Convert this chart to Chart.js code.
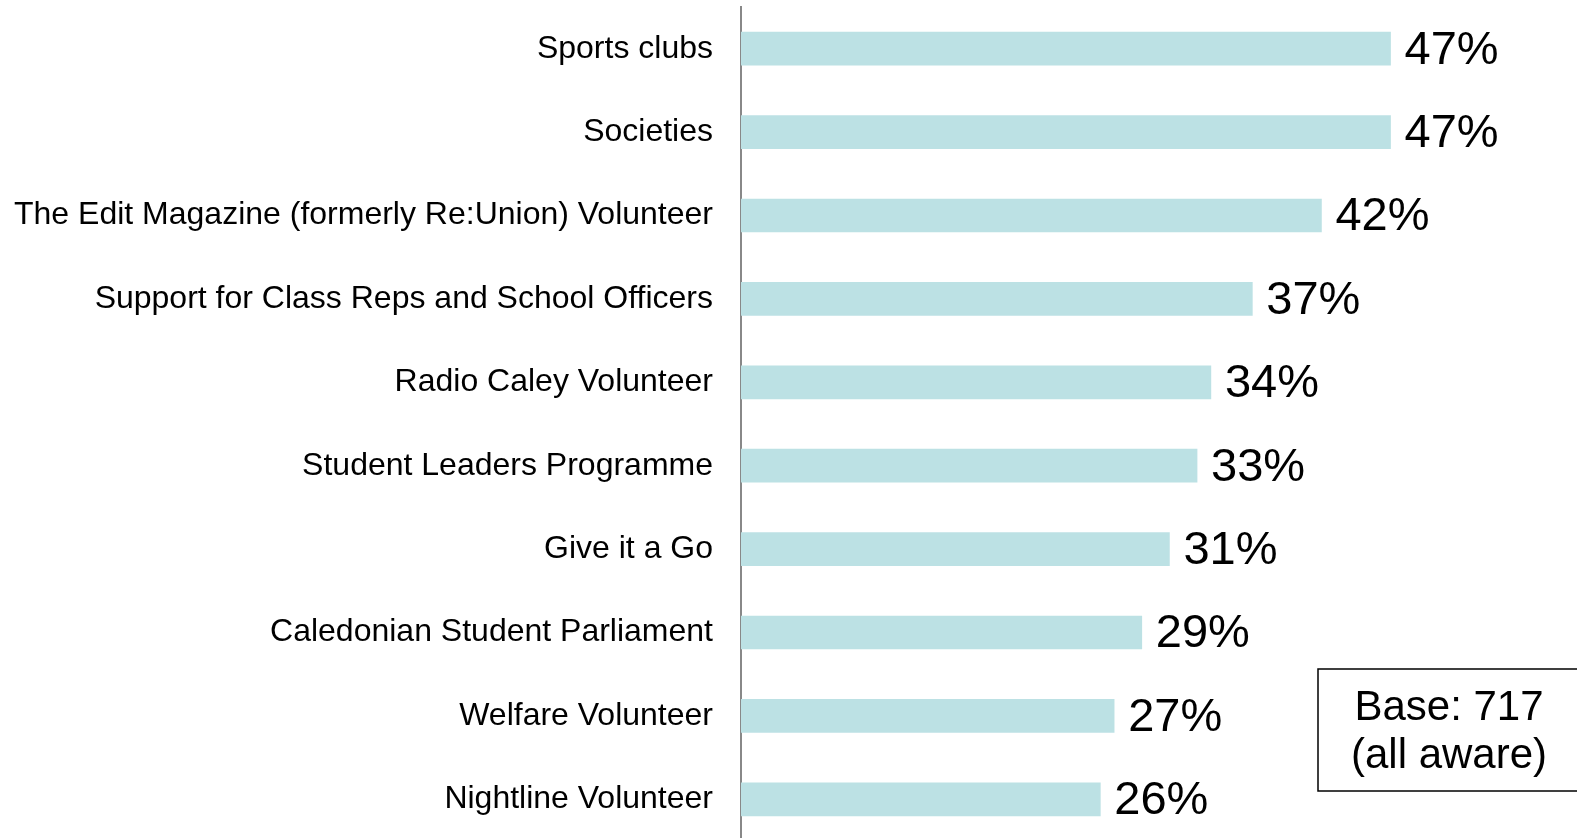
<!DOCTYPE html>
<html>
<head>
<meta charset="utf-8">
<script src="https://cdn.jsdelivr.net/npm/chart.js@4/dist/chart.umd.min.js"></script>
<style>
  html, body { margin: 0; padding: 0; background: #fff; overflow: hidden; }
  #wrap { position: relative; width: 1577px; height: 841px; }
</style>
</head>
<body>
<div id="wrap"><canvas id="grafico"></canvas></div>
<script>
// Categorie e valori (%)
const categorie = [
  "Sports clubs",
  "Societies",
  "The Edit Magazine (formerly Re:Union) Volunteer",
  "Support for Class Reps and School Officers",
  "Radio Caley Volunteer",
  "Student Leaders Programme",
  "Give it a Go",
  "Caledonian Student Parliament",
  "Welfare Volunteer",
  "Nightline Volunteer",
];
const valori = [47, 47, 42, 37, 34, 33, 31, 29, 27, 26];

// Nota base
const notaBase = ["Base: 717", "(all aware)"];

const FONT = "'Liberation Sans', Arial, sans-serif";

// Etichette dei valori a destra delle barre
const etichetteValori = {
  id: "etichetteValori",
  afterDatasetsDraw(chart) {
    const ctx = chart.ctx;
    const meta = chart.getDatasetMeta(0);
    ctx.save();
    ctx.font = "47px " + FONT;
    ctx.fillStyle = "#000";
    ctx.textAlign = "left";
    ctx.textBaseline = "middle";
    meta.data.forEach((bar, i) => {
      ctx.fillText(valori[i] + "%", bar.x + 14, bar.y + 2);
    });
    ctx.restore();
  },
};

// Riquadro con la base
const riquadroBase = {
  id: "riquadroBase",
  afterDraw(chart) {
    const ctx = chart.ctx;
    ctx.save();
    ctx.strokeStyle = "#000";
    ctx.lineWidth = 1.5;
    ctx.fillStyle = "#fff";
    ctx.fillRect(1318, 669, 262, 122);
    ctx.strokeRect(1318, 669, 262, 122);
    ctx.font = "42px " + FONT;
    ctx.fillStyle = "#000";
    ctx.textAlign = "center";
    ctx.textBaseline = "middle";
    ctx.fillText(notaBase[0], 1449, 708);
    ctx.fillText(notaBase[1], 1449, 756);
    ctx.restore();
  },
};

new Chart(document.getElementById("grafico"), {
  type: "bar",
  data: {
    labels: categorie,
    datasets: [
      {
        data: valori,
        backgroundColor: "#BCE1E4",
        barThickness: 33,
      },
    ],
  },
  options: {
    indexAxis: "y",
    responsive: true,
    maintainAspectRatio: false,
    animation: false,
    layout: { padding: { top: 7, right: 145, left: 0, bottom: 0 } },
    plugins: {
      legend: { display: false },
      tooltip: { enabled: false },
    },
    scales: {
      x: {
        display: false,
        min: 0,
        max: 50,
      },
      y: {
        grid: { display: false, drawTicks: false },
        border: { display: true, color: "#888", width: 2 },
        ticks: {
          color: "#000",
          padding: 28,
          font: { size: 32, family: FONT },
        },
        afterFit(scale) {
          scale.width = 741;
          scale.paddingTop = 0;
          scale.paddingBottom = 0;
        },
      },
    },
  },
  plugins: [etichetteValori, riquadroBase],
});
</script>
</body>
</html>
